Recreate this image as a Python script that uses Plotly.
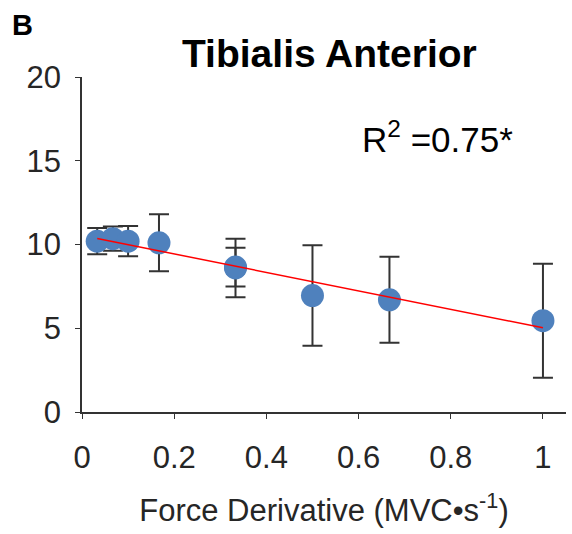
import plotly.graph_objects as go

# Data
force_deriv = [0.033, 0.067, 0.1, 0.167, 0.333, 0.333, 0.5, 0.667, 1.0]
emg_mean = [10.2, 10.35, 10.2, 10.1, 8.6, 8.65, 6.95, 6.7, 5.45]
emg_sd = [0.78, 0.72, 0.9, 1.7, 1.75, 1.15, 3.0, 2.57, 3.4]

fit_x = [0.033, 1.0]
fit_slope = -5.51
fit_intercept = 10.54
fit_y = [fit_intercept + fit_slope * x for x in fit_x]

x_ticks = [0, 0.2, 0.4, 0.6, 0.8, 1]
x_tick_text = ["0", "0.2", "0.4", "0.6", "0.8", "1"]
y_ticks = [0, 5, 10, 15, 20]

FONT = "Liberation Sans, Arial, sans-serif"
TXT = "#262626"

fig = go.Figure()
fig.add_trace(go.Scatter(
    x=force_deriv, y=emg_mean, mode="markers",
    marker=dict(size=23, color="#4F81BD"),
    error_y=dict(type="data", array=emg_sd, visible=True,
                 color="#333333", thickness=2, width=10),
    showlegend=False, cliponaxis=False,
))
fig.add_trace(go.Scatter(
    x=fit_x, y=fit_y, mode="lines",
    line=dict(color="#FF0000", width=1.5),
    showlegend=False,
))

fig.update_layout(
    width=572, height=534,
    margin=dict(l=82, r=6, t=77, b=122),
    paper_bgcolor="white", plot_bgcolor="white",
    font=dict(family=FONT, color=TXT),
    xaxis=dict(range=[0, 1.05], tickvals=x_ticks, ticktext=x_tick_text,
               showgrid=False, zeroline=False, showline=True,
               linecolor="#333333", linewidth=1.5,
               ticks="outside", ticklen=5, tickcolor="#333333",
               ticklabelstandoff=12,
               tickfont=dict(size=31, family=FONT, color=TXT),
               title=dict(text="Force Derivative (MVC•s<sup>-1</sup>)",
                          font=dict(size=31, family=FONT, color=TXT),
                          standoff=25)),
    yaxis=dict(range=[0, 20], tickvals=y_ticks,
               showgrid=False, zeroline=False, showline=True,
               linecolor="#333333", linewidth=1.5,
               ticks="outside", ticklen=5, tickcolor="#333333",
               ticklabelstandoff=8,
               tickfont=dict(size=31, family=FONT, color=TXT)),
    annotations=[
        dict(text="<b>B</b>", xref="paper", yref="paper", x=-0.148, y=1.155,
             xanchor="left", yanchor="middle", showarrow=False,
             font=dict(size=29, family=FONT, color="black")),
        dict(text="<b>Tibialis Anterior</b>", xref="paper", yref="paper",
             x=0.511, y=1.07, xanchor="center", yanchor="middle",
             showarrow=False, font=dict(size=39, family=FONT, color="black")),
        dict(text="R<sup>2</sup> =0.75*", xref="paper", yref="paper",
             x=0.574, y=0.82, xanchor="left", yanchor="middle",
             showarrow=False, font=dict(size=35, family=FONT, color="black")),
    ],
)

fig.write_html("out.html")
